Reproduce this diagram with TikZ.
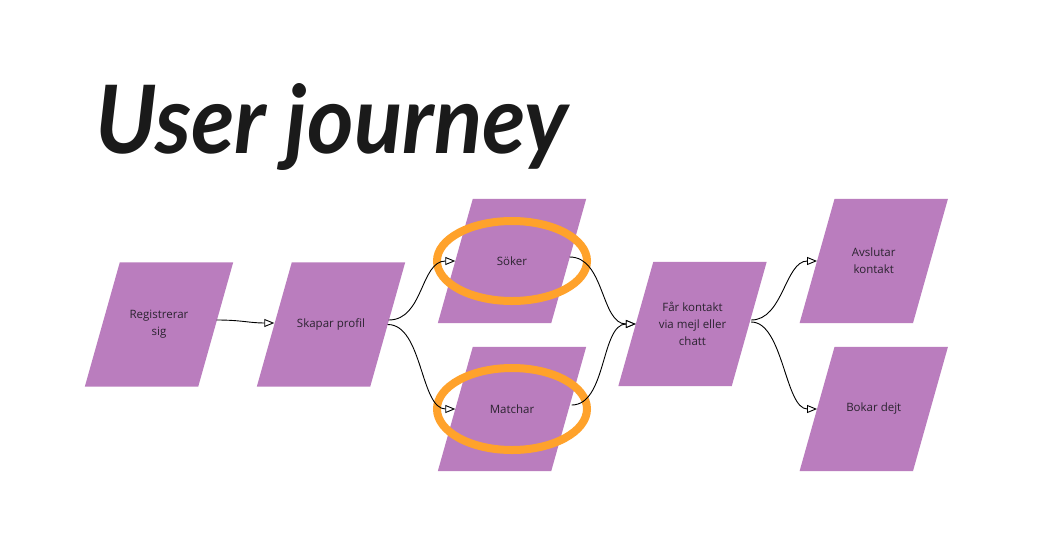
\documentclass[tikz,border=0pt]{standalone}
\usepackage{graphicx}
\usepackage{fontspec}
\setmainfont{Open Sans}
\newfontfamily\titlefont{Lato}
\usetikzlibrary{arrows.meta,backgrounds,calc}
\definecolor{boxfill}{HTML}{BA7DBE}
\definecolor{ringcol}{HTML}{FFA22B}
\definecolor{ink}{HTML}{2B2330}
\definecolor{titleink}{HTML}{1A1A1A}
\tikzset{
  stepbox/.style={rectangle, inner sep=0pt, minimum width=113pt, minimum height=124pt, align=center, text=ink, font=\fontsize{11.5}{17}\selectfont},
  flow/.style={draw=black, line width=0.9pt, -{Triangle[length=10pt,width=8pt,fill=white]}},
  ringline/.style={draw=ringcol, line width=8pt},
}
\newcommand\parafill[1]{\fill[boxfill] ([xshift=17.5pt]#1.north west) -- ([xshift=17.5pt]#1.north east) -- ([xshift=-17.5pt]#1.south east) -- ([xshift=-17.5pt]#1.south west) -- cycle;}
\begin{document}
\begin{tikzpicture}[x=1pt,y=-1pt]
\useasboundingbox (0,0) rectangle (1039,558);
% title
\node[anchor=base west, inner sep=0pt, text=titleink] (title) at (95,153) {\resizebox{473pt}{70pt}{\titlefont\bfseries\itshape User journey}};
% steps
\node[stepbox] (reg) at (159,324.5) {Registrerar\\sig};
\node[stepbox] (skap) at (331,324.5) {Skapar profil};
\node[stepbox] (sok) at (512,261) {Söker};
\node[stepbox] (mat) at (512,409) {Matchar};
\node[stepbox] (far) at (692.5,324) {Får kontakt\\via mejl eller\\chatt};
\node[stepbox] (avs) at (873.75,261) {Avslutar\\kontakt};
\node[stepbox] (bok) at (873.75,409) {Bokar dejt};
\begin{scope}[on background layer]
\fill[white] (0,0) rectangle (1039,558);
\parafill{reg}
\parafill{skap}
\parafill{sok}
\parafill{mat}
\parafill{far}
\parafill{avs}
\parafill{bok}
\end{scope}
% highlight rings
\draw[ringline] (sok.center) ellipse [x radius=75, y radius=40];
\draw[ringline] (mat.center) ellipse [x radius=75, y radius=41];
% connectors
\draw[flow] ([xshift=1pt,yshift=4.5pt]reg.east) .. controls +(25,0) and +(-25,0) .. ([yshift=1.5pt]skap.west);
\draw[flow] ([xshift=1pt,yshift=4.5pt]skap.east) .. controls +(35,0) and +(-35,0) .. (sok.west);
\draw[flow] (skap.east) .. controls +(35,0) and +(-35,0) .. (mat.west);
\draw[flow] ([xshift=1pt,yshift=4pt]sok.east) .. controls +(35,0) and +(-35,0) .. (far.west);
\draw[flow] ([xshift=3pt,yshift=4pt]mat.east) .. controls +(35,0) and +(-35,0) .. (far.west);
\draw[flow] ([xshift=2pt,yshift=4pt]far.east) .. controls +(32,0) and +(-32,0) .. (avs.west);
\draw[flow] ([xshift=2pt,yshift=2pt]far.east) .. controls +(32,0) and +(-32,0) .. (bok.west);
\end{tikzpicture}
\end{document}
